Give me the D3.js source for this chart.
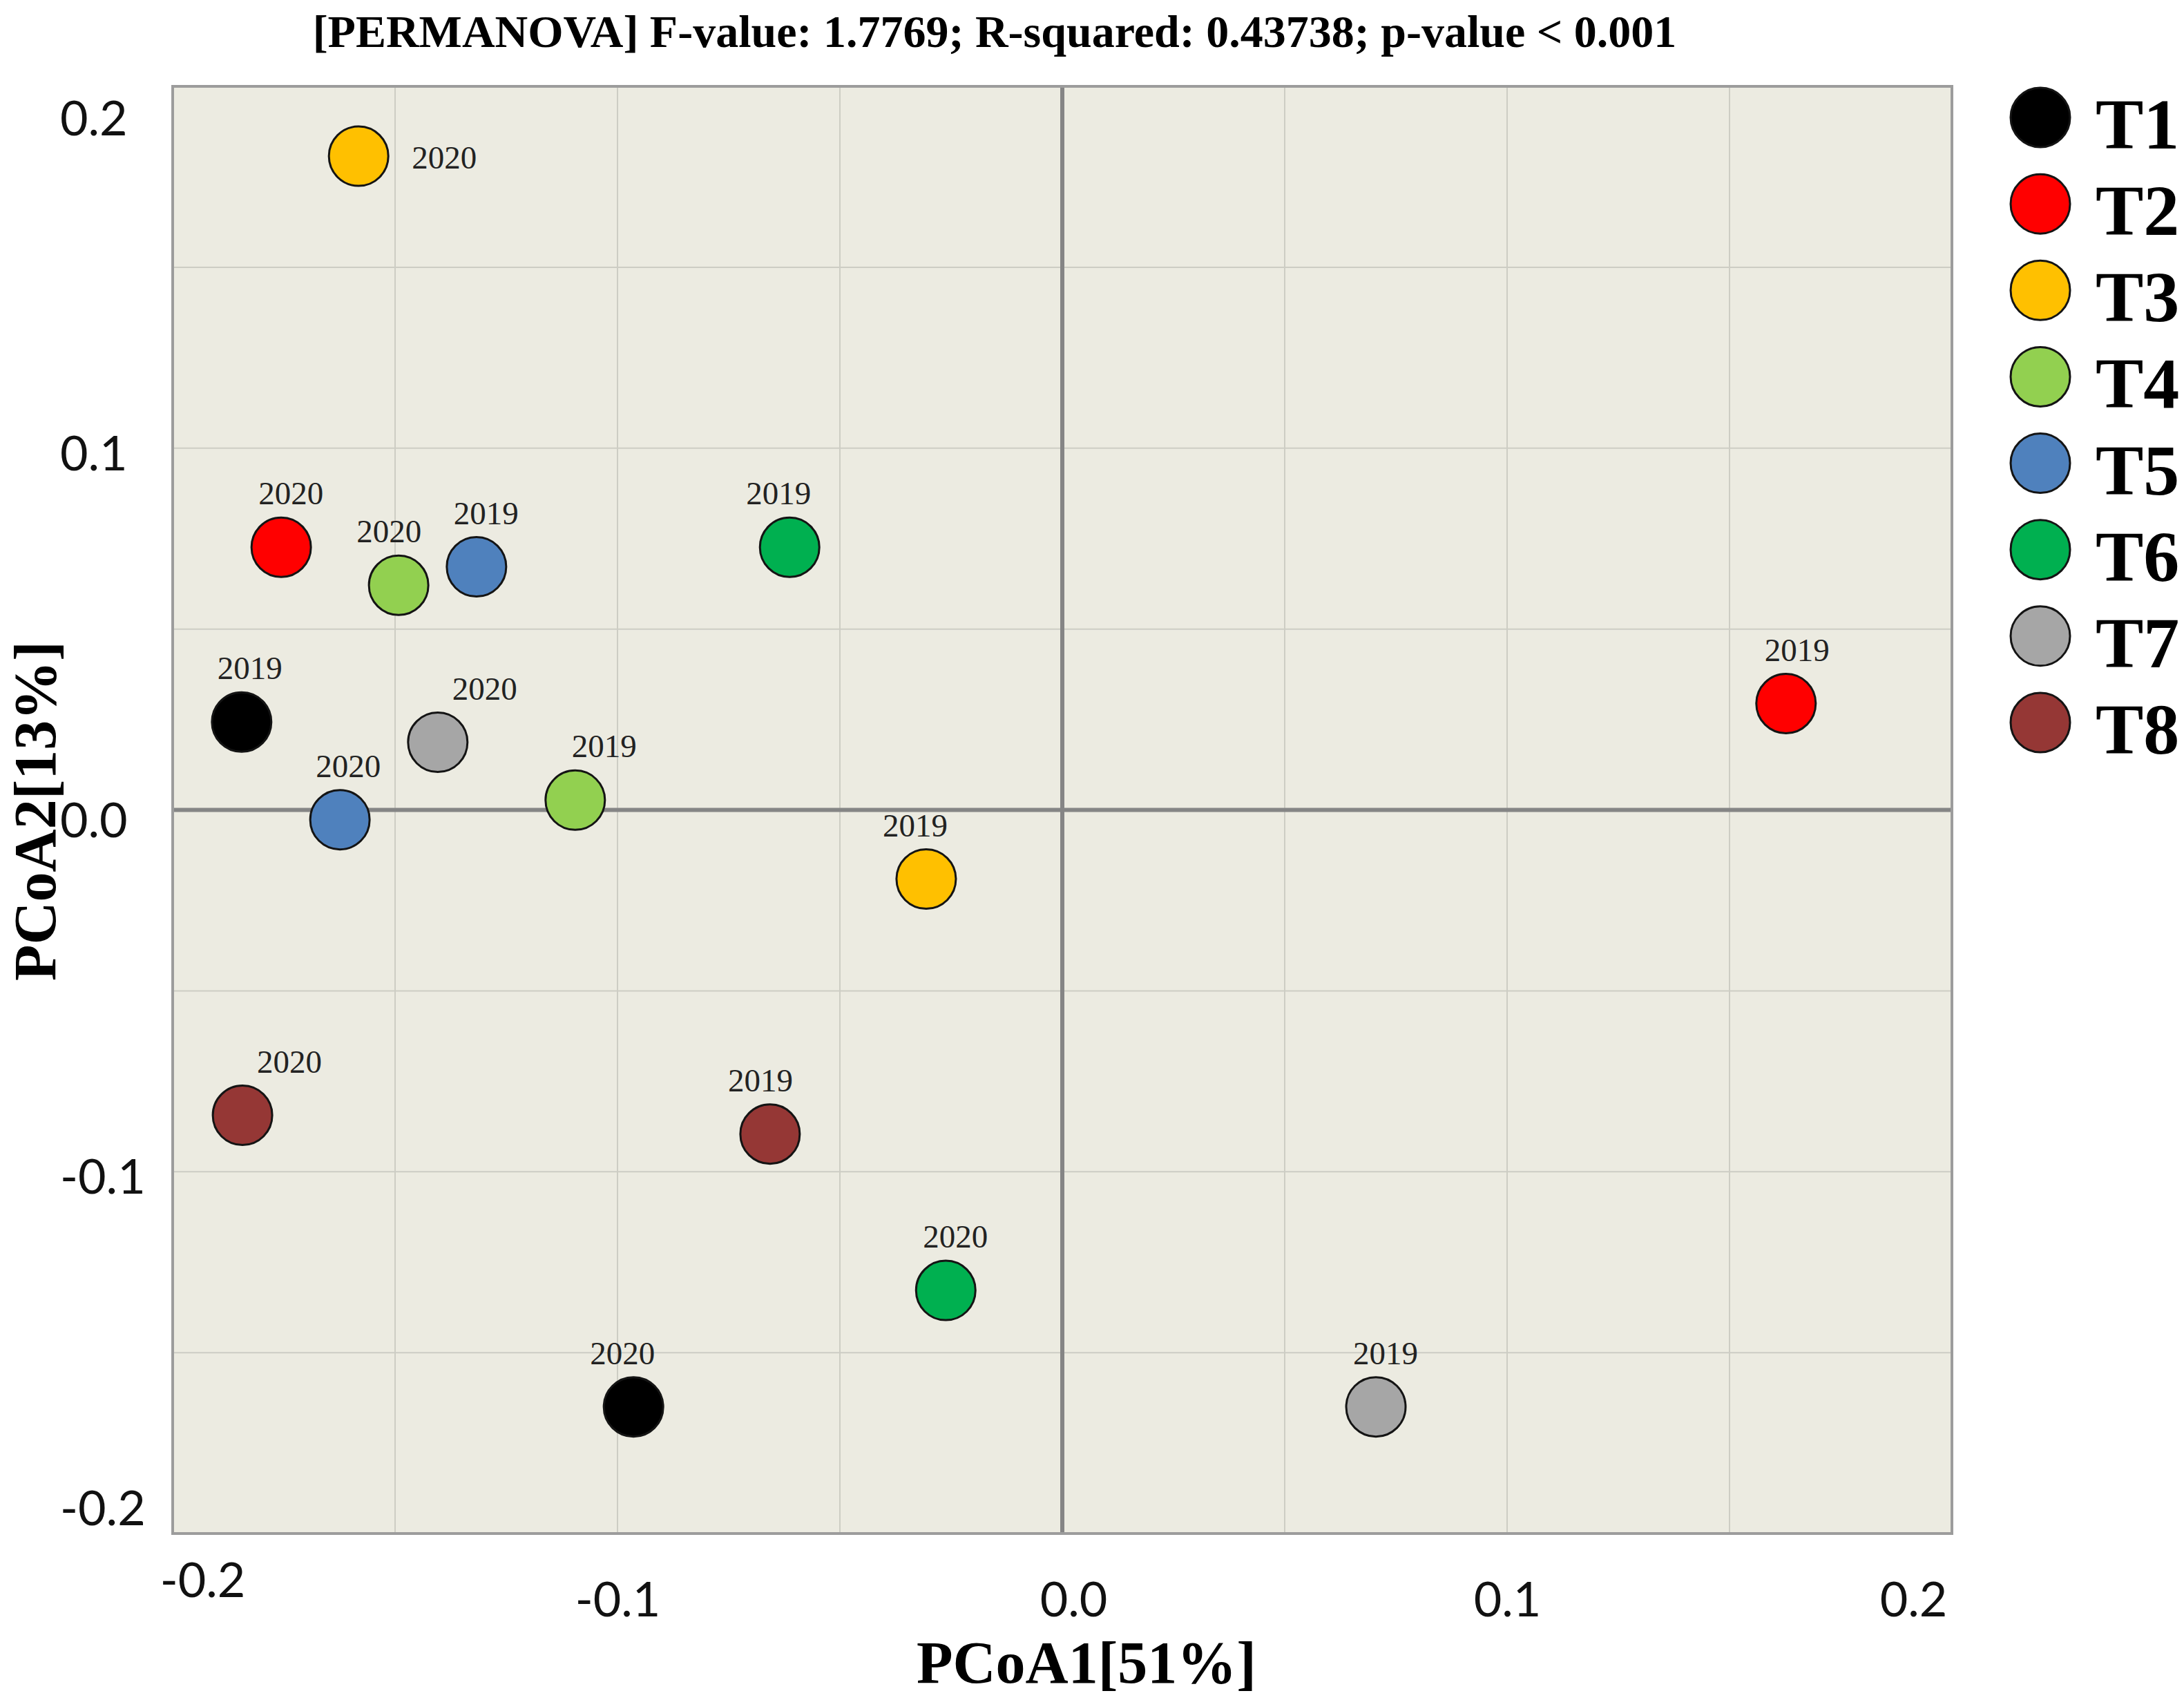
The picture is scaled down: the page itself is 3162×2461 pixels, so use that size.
<!DOCTYPE html>
<html>
<head>
<meta charset="utf-8">
<script src="https://cdn.jsdelivr.net/npm/d3@7"></script>
<style>
  body { margin: 0; background: #fff; }
</style>
</head>
<body>
<div id="pcoa"></div>
<script>
// chart data
const groups = ["T1", "T2", "T3", "T4", "T5", "T6", "T7", "T8"];
const groupColors = ["#000000", "#ff0000", "#ffc000", "#92d050", "#4f81bd", "#00b050", "#a6a6a6", "#953735"];

const sampleGroup = ["T1", "T1", "T2", "T2", "T3", "T3", "T4", "T4", "T5", "T5", "T6", "T6", "T7", "T7", "T8", "T8"];
const sampleYear  = ["2019", "2020", "2019", "2020", "2019", "2020", "2019", "2020", "2019", "2020", "2019", "2020", "2019", "2020", "2019", "2020"];
const pcoa1 = [-0.1845, -0.0964, 0.1627, -0.1756, -0.0306, -0.1582, -0.1095, -0.1492, -0.1317, -0.1624, -0.0613, -0.0262, 0.0705, -0.1404, -0.0657, -0.1843];
const pcoa2 = [0.0243, -0.1650, 0.0294, 0.0726, -0.0191, 0.1807, 0.0027, 0.0621, 0.0672, -0.0027, 0.0726, -0.1328, -0.1650, 0.0187, -0.0896, -0.0844];

const xTicks = [-0.2, -0.1, 0.0, 0.1, 0.2];
const yTicks = [0.2, 0.1, 0.0, -0.1, -0.2];
const gridStep = [-0.15, -0.1, -0.05, 0.05, 0.1, 0.15];

const titleText = "[PERMANOVA] F-value: 1.7769; R-squared: 0.43738; p-value < 0.001";
const xTitle = "PCoA1[51%]";
const yTitle = "PCoA2[13%]";

// label nudges (layout only), keyed by group-year
const labelShift = {
  "T1-2019": 12, "T1-2020": -16, "T2-2019": 16, "T2-2020": 14,
  "T3-2019": -16, "T4-2019": 42, "T4-2020": -14, "T5-2019": 14,
  "T5-2020": 12, "T6-2019": -16, "T6-2020": 14, "T7-2019": 14,
  "T7-2020": 68, "T8-2019": -14, "T8-2020": 68
};

const W = 3162, H = 2461;
const plot = {left: 250, right: 2826, top: 125, bottom: 2220};
const serif = "'Liberation Serif', 'Times New Roman', serif";
const sans = "Lato, 'Open Sans', sans-serif";

const svg = d3.select("#pcoa")
  .append("svg")
    .attr("width", W)
    .attr("height", H);

const x = d3.scaleLinear().domain([-0.2, 0.2]).range([plot.left, plot.right]);
const y = d3.scaleLinear().domain([-0.2, 0.2]).range([plot.bottom, plot.top]);
const color = d3.scaleOrdinal().domain(groups).range(groupColors);

// panel background
svg.append("rect")
  .attr("x", plot.left).attr("y", plot.top)
  .attr("width", plot.right - plot.left).attr("height", plot.bottom - plot.top)
  .attr("fill", "#ecebe1");

// light grid
const grid = svg.append("g").attr("stroke", "#cdcdc4").attr("stroke-width", 2);
grid.selectAll("line.vg").data(gridStep).enter().append("line")
  .attr("class", "vg")
  .attr("x1", d => x(d)).attr("x2", d => x(d))
  .attr("y1", plot.top).attr("y2", plot.bottom);
grid.selectAll("line.hg").data(gridStep).enter().append("line")
  .attr("class", "hg")
  .attr("y1", d => y(d)).attr("y2", d => y(d))
  .attr("x1", plot.left).attr("x2", plot.right);

// zero lines
svg.append("line")
  .attr("x1", x(0)).attr("x2", x(0)).attr("y1", plot.top).attr("y2", plot.bottom)
  .attr("stroke", "#858585").attr("stroke-width", 6);
svg.append("line")
  .attr("y1", y(0)).attr("y2", y(0)).attr("x1", plot.left).attr("x2", plot.right)
  .attr("stroke", "#858585").attr("stroke-width", 6);

// panel border
svg.append("rect")
  .attr("x", plot.left).attr("y", plot.top)
  .attr("width", plot.right - plot.left).attr("height", plot.bottom - plot.top)
  .attr("fill", "none").attr("stroke", "#9c9c9c").attr("stroke-width", 4);

const fmt = d => d3.format(".1f")(d).replace("\u2212", "-");

// x axis
const xAxis = svg.append("g")
  .attr("transform", "translate(0," + plot.bottom + ")")
  .call(d3.axisBottom(x).tickValues(xTicks).tickSize(0).tickFormat(fmt));
xAxis.select(".domain").remove();
xAxis.selectAll("text")
  .attr("font-family", sans).attr("font-size", 70).attr("fill", "#111")
  .attr("y", 120).attr("dy", 0)
  .attr("dx", d => d === -0.2 ? 43 : (d === 0 ? 16 : (d === 0.2 ? -56 : 0)))
  .attr("transform", d => d === -0.2 ? "translate(0,-28)" : null);

// y axis
const yAxis = svg.append("g")
  .attr("transform", "translate(" + plot.left + ",0)")
  .call(d3.axisLeft(y).tickValues(yTicks).tickSize(0).tickFormat(fmt));
yAxis.select(".domain").remove();
yAxis.selectAll("text")
  .attr("font-family", sans).attr("font-size", 70).attr("fill", "#111")
  .attr("text-anchor", "start")
  .attr("x", -(plot.left - 87))
  .attr("dy", d => d === 0.2 ? "1.0em" : (d === -0.2 ? "-0.18em" : (d === 0 ? "0.55em" : "0.45em")));

// axis titles
svg.append("text")
  .attr("x", 1573).attr("y", 2436)
  .attr("text-anchor", "middle")
  .attr("font-family", serif).attr("font-weight", "bold").attr("font-size", 86)
  .text(xTitle);
svg.append("text")
  .attr("transform", "translate(80,1174) rotate(-90)")
  .attr("text-anchor", "middle")
  .attr("font-family", serif).attr("font-weight", "bold").attr("font-size", 86)
  .text(yTitle);

// title
svg.append("text")
  .attr("x", 1440).attr("y", 68)
  .attr("text-anchor", "middle")
  .attr("font-family", serif).attr("font-weight", "bold").attr("font-size", 66)
  .text(titleText);

// points
const samples = sampleGroup.map((g, i) => ({group: g, year: sampleYear[i], x: pcoa1[i], y: pcoa2[i]}));

svg.append("g")
  .selectAll("circle")
  .data(samples)
  .enter()
  .append("circle")
    .attr("cx", d => x(d.x))
    .attr("cy", d => y(d.y))
    .attr("r", 43)
    .attr("fill", d => color(d.group))
    .attr("stroke", "#141414")
    .attr("stroke-width", 3);

svg.append("g")
  .attr("font-family", serif).attr("font-size", 47).attr("fill", "#222")
  .selectAll("text")
  .data(samples)
  .enter()
  .append("text")
    .attr("text-anchor", d => (d.group === "T3" && d.year === "2020") ? "start" : "middle")
    .attr("x", d => (d.group === "T3" && d.year === "2020") ? x(d.x) + 77 : x(d.x) + (labelShift[d.group + "-" + d.year] || 0))
    .attr("y", d => (d.group === "T3" && d.year === "2020") ? y(d.y) + 18 : y(d.y) - 62)
    .text(d => d.year);

// legend
const ly = d3.scalePoint().domain(groups).range([170, 1046]);
const legend = svg.append("g")
  .selectAll("g")
  .data(groups)
  .enter()
  .append("g")
    .attr("transform", d => "translate(2954," + ly(d) + ")");
legend.append("circle")
  .attr("r", 43)
  .attr("fill", d => color(d))
  .attr("stroke", "#141414")
  .attr("stroke-width", 3);
legend.append("text")
  .attr("x", 80).attr("y", 45)
  .attr("font-family", serif).attr("font-weight", "bold").attr("font-size", 104)
  .text(d => d);
</script>
</body>
</html>
